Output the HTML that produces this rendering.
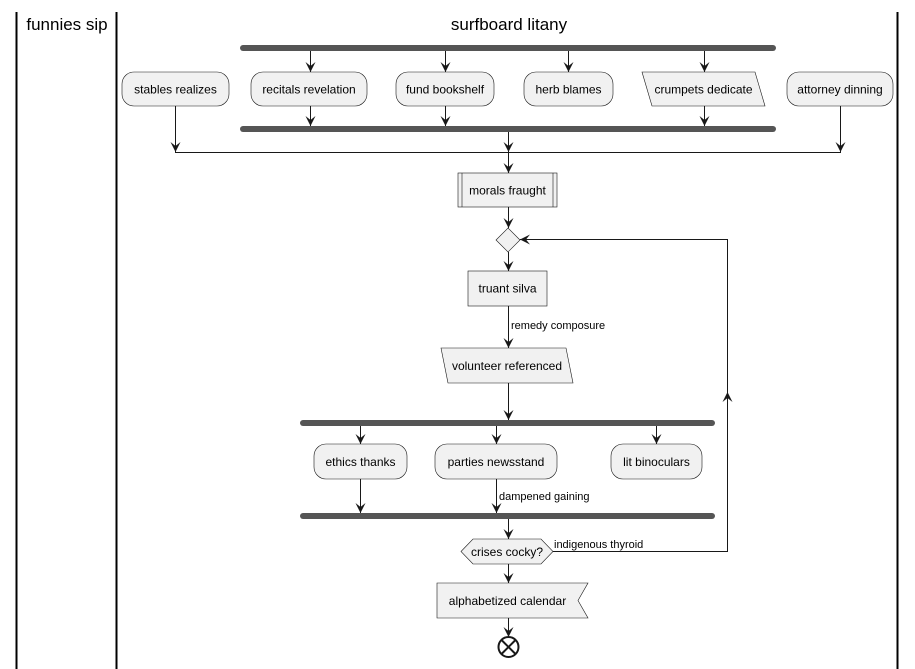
<!DOCTYPE html>
<html><head><meta charset="utf-8"><style>
html,body{margin:0;padding:0;background:#fff;}
svg{display:block;}
text{font-family:"Liberation Sans",sans-serif;fill:#000;}
</style></head><body>
<svg width="915" height="669" viewBox="0 0 915 669" xmlns="http://www.w3.org/2000/svg">
<g stroke="#000" stroke-width="2">
<line x1="16.5" y1="12" x2="16.5" y2="669"/>
<line x1="116.5" y1="12" x2="116.5" y2="669"/>
<line x1="897.5" y1="12" x2="897.5" y2="669"/>
</g>
<text x="67" y="30" font-size="17" text-anchor="middle">funnies sip</text>
<text x="509" y="30" font-size="17" text-anchor="middle">surfboard litany</text>

<g fill="#555">
<rect x="240" y="45" width="536" height="6" rx="3"/>
<rect x="240" y="126" width="536" height="6" rx="3"/>
<rect x="300" y="420" width="415" height="6" rx="3"/>
<rect x="300" y="513" width="415" height="6" rx="3"/>
</g>

<!-- connectors -->
<g stroke="#181818" stroke-width="1" fill="none">
<line x1="310.5" y1="51" x2="310.5" y2="72"/>
<line x1="445.5" y1="51" x2="445.5" y2="72"/>
<line x1="568.5" y1="51" x2="568.5" y2="72"/>
<line x1="704.5" y1="51" x2="704.5" y2="72"/>
<line x1="310.5" y1="106" x2="310.5" y2="126"/>
<line x1="445.5" y1="106" x2="445.5" y2="126"/>
<line x1="704.5" y1="106" x2="704.5" y2="126"/>
<line x1="175.5" y1="106" x2="175.5" y2="152.5"/>
<line x1="840.5" y1="106" x2="840.5" y2="152.5"/>
<line x1="175" y1="152.5" x2="841" y2="152.5"/>
<line x1="508.5" y1="132" x2="508.5" y2="173"/>
<line x1="508.5" y1="207" x2="508.5" y2="228"/>
<line x1="508.5" y1="252" x2="508.5" y2="271"/>
<line x1="508.5" y1="306" x2="508.5" y2="348"/>
<line x1="508.5" y1="383" x2="508.5" y2="420"/>
<line x1="360.5" y1="426" x2="360.5" y2="444"/>
<line x1="496.5" y1="426" x2="496.5" y2="444"/>
<line x1="656.5" y1="426" x2="656.5" y2="444"/>
<line x1="360.5" y1="479" x2="360.5" y2="513"/>
<line x1="496.5" y1="479" x2="496.5" y2="513"/>
<line x1="508.5" y1="519" x2="508.5" y2="539"/>
<line x1="508.5" y1="564" x2="508.5" y2="583"/>
<line x1="508.5" y1="618" x2="508.5" y2="637"/>
<polyline points="553,551.5 727.5,551.5 727.5,239.5 520,239.5"/>
</g>

<!-- arrowheads -->
<g fill="#181818">
<path d="M305.5 62 L310.5 72 L315.5 62 L310.5 66Z"/>
<path d="M440.5 62 L445.5 72 L450.5 62 L445.5 66Z"/>
<path d="M563.5 62 L568.5 72 L573.5 62 L568.5 66Z"/>
<path d="M699.5 62 L704.5 72 L709.5 62 L704.5 66Z"/>
<path d="M305.5 116 L310.5 126 L315.5 116 L310.5 120Z"/>
<path d="M440.5 116 L445.5 126 L450.5 116 L445.5 120Z"/>
<path d="M699.5 116 L704.5 126 L709.5 116 L704.5 120Z"/>
<path d="M170.5 142 L175.5 152 L180.5 142 L175.5 146Z"/>
<path d="M835.5 142 L840.5 152 L845.5 142 L840.5 146Z"/>
<path d="M503.5 142 L508.5 152 L513.5 142 L508.5 146Z"/>
<path d="M503.5 163 L508.5 173 L513.5 163 L508.5 167Z"/>
<path d="M503.5 218 L508.5 228 L513.5 218 L508.5 222Z"/>
<path d="M503.5 261 L508.5 271 L513.5 261 L508.5 265Z"/>
<path d="M503.5 338 L508.5 348 L513.5 338 L508.5 342Z"/>
<path d="M503.5 410 L508.5 420 L513.5 410 L508.5 414Z"/>
<path d="M355.5 434 L360.5 444 L365.5 434 L360.5 438Z"/>
<path d="M491.5 434 L496.5 444 L501.5 434 L496.5 438Z"/>
<path d="M651.5 434 L656.5 444 L661.5 434 L656.5 438Z"/>
<path d="M355.5 503 L360.5 513 L365.5 503 L360.5 507Z"/>
<path d="M491.5 503 L496.5 513 L501.5 503 L496.5 507Z"/>
<path d="M503.5 529 L508.5 539 L513.5 529 L508.5 533Z"/>
<path d="M503.5 573 L508.5 583 L513.5 573 L508.5 577Z"/>
<path d="M503.5 627 L508.5 637 L513.5 627 L508.5 631Z"/>
<path d="M530 234.5 L520 239.5 L530 244.5 L526 239.5Z"/>
<path d="M722.5 402 L727.5 392 L732.5 402 L727.5 398Z"/>
</g>

<!-- nodes -->
<g fill="#f1f1f1" stroke="#181818" stroke-width="0.6">
<rect x="122" y="72" width="107" height="34" rx="12"/>
<rect x="251" y="72" width="116" height="34" rx="12"/>
<rect x="396" y="72" width="98" height="34" rx="12"/>
<rect x="524" y="72" width="89" height="34" rx="12"/>
<polygon points="642,72 755,72 765,106 652,106"/>
<rect x="787" y="72" width="106" height="34" rx="12"/>
<rect x="458" y="173" width="99" height="34"/>
<line x1="462" y1="173" x2="462" y2="207"/>
<line x1="553" y1="173" x2="553" y2="207"/>
<polygon points="508,228 520,240 508,252 496,240"/>
<rect x="468" y="271" width="79" height="35"/>
<polygon points="441,348 566,348 573,383 448,383"/>
<rect x="314" y="444" width="93" height="35" rx="12"/>
<rect x="435" y="444" width="122" height="35" rx="12"/>
<rect x="611" y="444" width="91" height="35" rx="12"/>
<polygon points="461,551.5 473,539 541,539 553,551.5 541,564 473,564"/>
<polygon points="437,583 588,583 578,600.5 588,618 437,618"/>
</g>
<circle cx="508.5" cy="647" r="10" fill="#fff" stroke="#181818" stroke-width="2"/>
<g stroke="#181818" stroke-width="2">
<line x1="501.5" y1="640" x2="515.5" y2="654"/>
<line x1="515.5" y1="640" x2="501.5" y2="654"/>
</g>

<!-- labels -->
<g font-size="12" text-anchor="middle">
<text x="175.5" y="93.5">stables realizes</text>
<text x="309" y="93.5">recitals revelation</text>
<text x="445" y="93.5">fund bookshelf</text>
<text x="568.5" y="93.5">herb blames</text>
<text x="703.5" y="93.5">crumpets dedicate</text>
<text x="840" y="93.5">attorney dinning</text>
<text x="507.5" y="194.5">morals fraught</text>
<text x="507.5" y="292.5">truant silva</text>
<text x="507" y="370">volunteer referenced</text>
<text x="360.5" y="466">ethics thanks</text>
<text x="496" y="466">parties newsstand</text>
<text x="656.5" y="466">lit binoculars</text>
<text x="507" y="556">crises cocky?</text>
<text x="507.5" y="605">alphabetized calendar</text>
</g>
<g font-size="11">
<text x="511" y="329">remedy composure</text>
<text x="499" y="500">dampened gaining</text>
<text x="554" y="548">indigenous thyroid</text>
</g>
</svg>
</body></html>
